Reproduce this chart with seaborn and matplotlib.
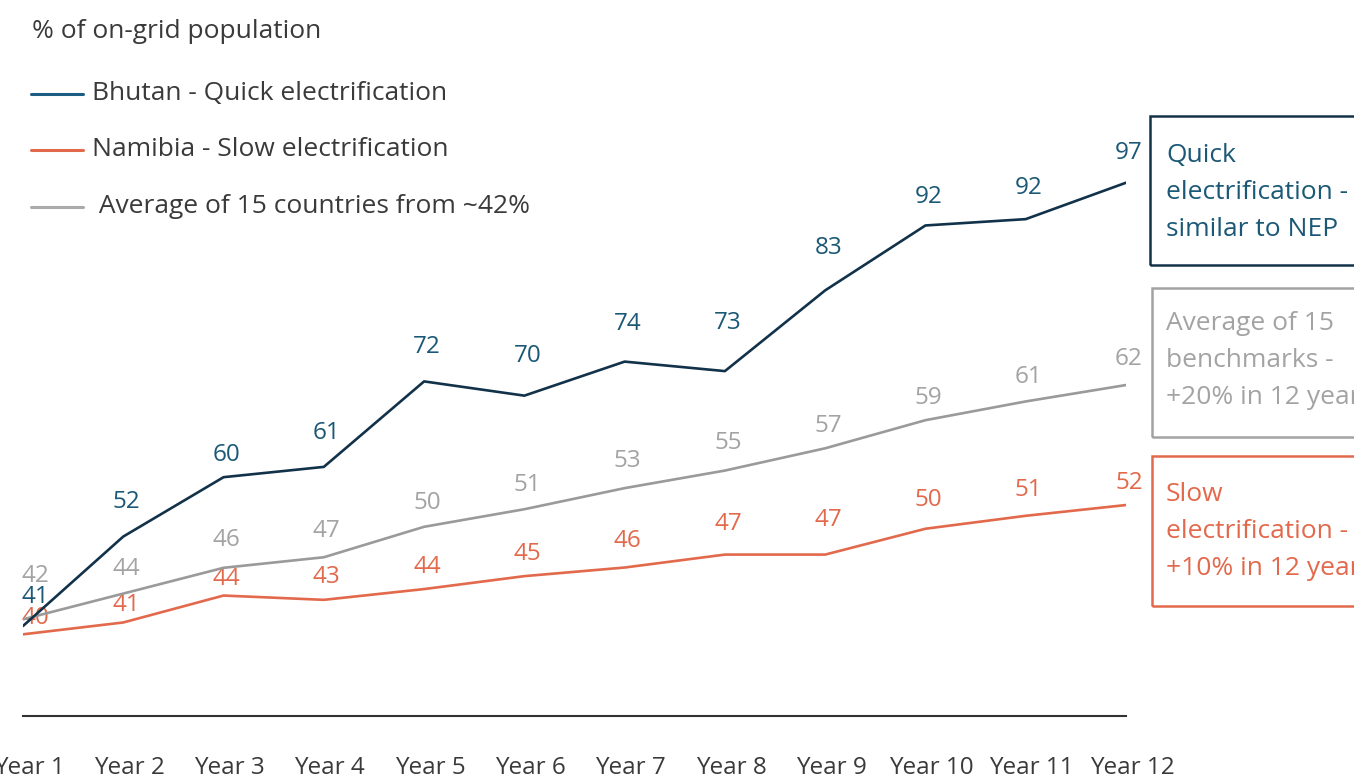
import matplotlib
matplotlib.use("Agg")
import matplotlib.pyplot as plt
import matplotlib.transforms as mtransforms
from matplotlib.lines import Line2D
from matplotlib.patches import Rectangle
import pandas as pd
import seaborn as sns

# data (labels show the rounded values)
years = [f"Year {i}" for i in range(1, 13)]
bhutan = [41.0, 52.3, 59.8, 61.1, 71.9, 70.1, 74.4, 73.2, 83.4, 91.6, 92.4, 97.0]
average = [42.0, 44.2, 46.4, 47.3, 49.9, 51.4, 53.2, 54.7, 56.6, 59.0, 60.6, 62.0]
namibia = [40.0, 41.1, 43.6, 43.2, 44.2, 45.4, 46.2, 47.4, 47.4, 49.8, 51.0, 52.0]

legend_labels = ["Bhutan - Quick electrification",
                 "Namibia - Slow electrification",
                 " Average of 15 countries from ~42%"]
box_texts = ["Quick\nelectrification -\nsimilar to NEP",
             "Average of 15\nbenchmarks -\n+20% in 12 years",
             "Slow\nelectrification -\n+10% in 12 years"]

# label offsets above each point, in pixels
bhutan_dy = [29, 35, 22, 34, 34, 40, 38, 48, 42, 28, 31, 30]
average_dy = [43, 25, 28, 26, 24, 24, 27, 28, 22, 22, 24, 26]
namibia_dy = [16, 17, 17, 23, 22, 22, 27, 31, 35, 29, 26, 22]

NAVY = "#12324a"
TEAL = "#1b5876"
LEG_BLUE = "#1b5c83"
ORANGE = "#e2694b"
GRAY_LINE = "#9a9a9a"
GRAY_TEXT = "#a3a3a3"
GRAY_LEG = "#a9aba9"
DARK = "#3a3a3a"

W, H = 1354, 778
sns.set_theme(style="white")
plt.rcParams["font.family"] = ["Open Sans", "DejaVu Sans"]
FS = 17.5     # ticks and value labels
FS_BIG = 19   # title, legend
FS_BOX = 19

df = pd.DataFrame({"x": range(12), "year": years, "bhutan": bhutan,
                   "average": average, "namibia": namibia})

fig = plt.figure(figsize=(W / 100, H / 100), dpi=100)


def fxy(x, y):
    return x / W, 1 - y / H


ax_nam = fig.add_axes([23 / W, 1 - 716 / H, (1126 - 23) / W, 616 / H])
ax_avg = ax_nam.twinx()
ax_bhu = ax_nam.twinx()

series = [
    (ax_nam, "namibia", ORANGE, ORANGE, namibia_dy, (32.42, 89.59)),
    (ax_avg, "average", GRAY_LINE, GRAY_TEXT, average_dy, (33.75, 86.33)),
    (ax_bhu, "bhutan", NAVY, TEAL, bhutan_dy, (29.63, 107.45)),
]

for ax, col, lc, tc, dys, ylim in series:
    sns.lineplot(data=df, x="x", y=col, ax=ax, color=lc, linewidth=1.9)
    ax.set_ylim(*ylim)
    ax.set_xlim(0, 11)
    ax.set_yticks([])
    ax.set_ylabel("")
    ax.set_xlabel("")
    for s in ax.spines.values():
        s.set_visible(False)
    for i, (v, dy) in enumerate(zip(df[col], dys)):
        dx = 12 if i == 0 else 3
        ax.annotate(f"{v:.0f}", (i, v), xytext=(dx, dy), textcoords="offset pixels",
                    ha="center", va="center", color=tc, fontsize=FS,
                    annotation_clip=False)

ax_nam.spines["bottom"].set_visible(True)
ax_nam.spines["bottom"].set_color("#333333")
ax_nam.spines["bottom"].set_linewidth(1.5)
ax_nam.set_xticks(range(12), years)
ax_nam.tick_params(axis="x", length=0, pad=29, labelsize=FS, labelcolor=DARK)
shift = mtransforms.ScaledTranslation(6 / 100, 0, fig.dpi_scale_trans)
for lab in ax_nam.get_xticklabels():
    lab.set_transform(lab.get_transform() + shift)

# title and legend
fig.text(*fxy(32, 32), "% of on-grid population", fontsize=FS_BIG, color=DARK,
         ha="left", va="center")
for lab, c, y in zip(legend_labels, [LEG_BLUE, ORANGE, GRAY_LEG], [93.7, 150, 206.7]):
    x0, y0 = fxy(31, y)
    x1, _ = fxy(83, y)
    fig.add_artist(Line2D([x0, x1], [y0, y0], color=c, linewidth=2.2,
                          transform=fig.transFigure))
    fig.text(*fxy(92, y), lab, fontsize=FS_BIG, color=DARK, ha="left", va="center")

# annotation boxes on the right
boxes = [(1150, 116, 265, NAVY, TEAL, 143),
         (1152, 288, 437, GRAY_TEXT, GRAY_TEXT, 311),
         (1152, 456, 606, ORANGE, ORANGE, 482)]
for (x, top, bot, ec, tc, ty), txt in zip(boxes, box_texts):
    x0, y0 = fxy(x, bot)
    fig.add_artist(Rectangle((x0, y0), (1400 - x) / W, (bot - top) / H,
                             transform=fig.transFigure, fill=False,
                             edgecolor=ec, linewidth=1.8))
    fig.text(*fxy(1166, ty), txt, fontsize=FS_BOX, color=tc, ha="left", va="top",
             linespacing=1.62)

fig.savefig("out.png", dpi=100)
